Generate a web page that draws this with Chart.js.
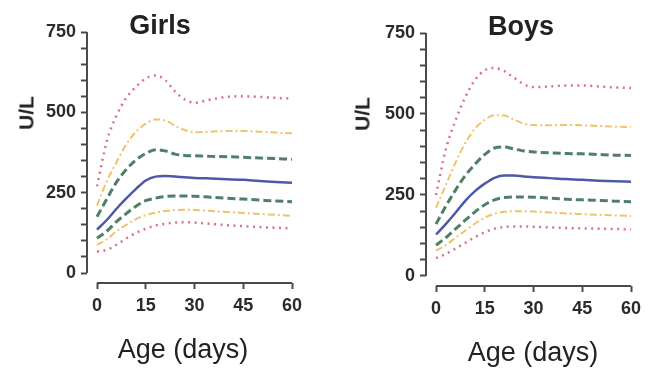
<!DOCTYPE html>
<html>
<head>
<meta charset="utf-8">
<script src="https://cdn.jsdelivr.net/npm/chart.js@4.4.1/dist/chart.umd.min.js"></script>
<style>
  html, body { margin: 0; padding: 0; background: #fff; overflow: hidden; }
  #wrap { position: relative; width: 652px; height: 369px; font-family: "Liberation Sans", Arial, sans-serif; color: #222; }
  canvas { position: absolute; top: 0; }
  .lbl { position: absolute; white-space: nowrap; line-height: 1; transform: translate(-50%, -50%); }
  .ttl { font-size: 27px; font-weight: bold; }
  .yt { font-size: 21px; font-weight: bold; transform: translate(-50%, -50%) rotate(-90deg); }
  .xt { font-size: 27px; }
</style>
</head>
<body>
<div id="wrap">
  <canvas id="girls" width="326" height="369" style="left:0"></canvas>
  <canvas id="boys" width="326" height="369" style="left:326px"></canvas>
  <div class="lbl ttl" style="left:160px; top:25px">Girls</div>
  <div class="lbl ttl" style="left:521px; top:26px">Boys</div>
  <div class="lbl yt" style="left:26px; top:113px">U/L</div>
  <div class="lbl yt" style="left:362px; top:114px">U/L</div>
  <div class="lbl xt" style="left:183px; top:349px">Age (days)</div>
  <div class="lbl xt" style="left:533px; top:352px">Age (days)</div>
</div>
<script>
// age in days
const days = [0, 3, 6, 9, 12, 15, 18, 21, 24, 27, 30, 35, 40, 45, 50, 55, 60];
const xTicks = [0, 15, 30, 45, 60];
const yTicks = [0, 50, 100, 150, 200, 250, 300, 350, 400, 450, 500, 550, 600, 650, 700, 750];

// girls reference curves, U/L
const girlsHi3 = [270, 410, 490, 545, 580, 605, 615, 600, 565, 540, 530, 540, 548, 550, 548, 545, 543];
const girlsHi2 = [210, 285, 345, 400, 440, 465, 478, 475, 458, 445, 438, 440, 442, 442, 440, 437, 435];
const girlsHi1 = [175, 230, 283, 322, 352, 372, 384, 380, 370, 366, 365, 363, 362, 360, 358, 356, 354];
const girlsMid = [135, 165, 200, 232, 262, 288, 300, 302, 300, 298, 296, 294, 292, 290, 286, 283, 281];
const girlsLo1 = [108, 130, 160, 185, 208, 225, 233, 238, 240, 240, 239, 236, 233, 230, 227, 224, 222];
const girlsLo2 = [88, 105, 130, 150, 168, 180, 188, 193, 196, 197, 196, 193, 190, 187, 184, 181, 178];
const girlsLo3 = [67, 72, 88, 108, 125, 138, 148, 153, 157, 158, 157, 153, 149, 146, 143, 141, 139];

// boys reference curves, U/L
const boysHi3 = [250, 390, 480, 552, 605, 635, 642, 632, 612, 592, 583, 585, 588, 588, 585, 582, 580];
const boysHi2 = [210, 280, 350, 410, 455, 482, 496, 495, 483, 470, 466, 465, 466, 465, 463, 461, 459];
const boysHi1 = [160, 215, 265, 310, 345, 375, 395, 398, 392, 386, 383, 380, 378, 377, 375, 373, 372];
const boysMid = [128, 160, 195, 232, 262, 285, 303, 310, 310, 307, 305, 302, 299, 297, 294, 292, 291];
const boysLo1 = [95, 118, 145, 172, 198, 220, 235, 242, 244, 244, 243, 240, 237, 235, 233, 231, 229];
const boysLo2 = [78, 95, 118, 140, 162, 180, 192, 198, 200, 200, 199, 196, 193, 191, 189, 187, 185];
const boysLo3 = [55, 68, 85, 102, 120, 135, 146, 151, 153, 153, 152, 150, 148, 147, 146, 145, 144];

const RED = '#d8728a';
const ORANGE = '#f1c268';
const GREEN = '#4f7f66';
const BLUE = '#4d58a8';

function serie(vals, color, dash, width) {
    return {
        data: days.map((d, i) => ({x: d, y: vals[i]})),
        borderColor: color,
        backgroundColor: color,
        borderDash: dash,
        borderWidth: width,
        pointRadius: 0,
        cubicInterpolationMode: 'monotone',
        fill: false
    };
}

// axis lines only span 0..60 and 0..750, like the original
const axisLines = {
    id: 'axisLines',
    afterDraw: (chart) => {
        const ctx = chart.ctx;
        const {x, y} = chart.scales;
        const area = chart.chartArea;
        ctx.save();
        ctx.strokeStyle = '#4a4a4a';
        ctx.lineWidth = 2;
        ctx.beginPath();
        ctx.moveTo(area.left, y.getPixelForValue(750));
        ctx.lineTo(area.left, y.getPixelForValue(0));
        ctx.moveTo(x.getPixelForValue(0), area.bottom);
        ctx.lineTo(x.getPixelForValue(60), area.bottom);
        ctx.stroke();
        ctx.restore();
    }
};

function panel(id, series, opt) {
    const tickFont = {family: "'Liberation Sans', Arial, sans-serif", size: 18, weight: 'bold'};
    return new Chart(document.getElementById(id), {
        type: 'line',
        data: {
            datasets: [
                serie(series[0], RED, [2, 4.5], 2.5),
                serie(series[1], ORANGE, [7, 3, 2, 3], 2),
                serie(series[2], GREEN, [8, 4], 3),
                serie(series[3], BLUE, [], 2.5),
                serie(series[4], GREEN, [8, 4], 3),
                serie(series[5], ORANGE, [7, 3, 2, 3], 2),
                serie(series[6], RED, [2, 4.5], 2.5)
            ]
        },
        plugins: [axisLines],
        options: {
            responsive: false,
            animation: false,
            layout: {padding: {top: opt.top, left: 0, right: 0, bottom: 0}},
            plugins: {legend: {display: false}, tooltip: {enabled: false}},
            scales: {
                x: {
                    type: 'linear',
                    min: opt.xMin,
                    max: opt.xMax,
                    afterBuildTicks: (s) => { s.ticks = xTicks.map(v => ({value: v})); },
                    afterFit: (s) => { s.height = opt.xHeight; },
                    border: {display: false},
                    grid: {drawOnChartArea: false, drawTicks: true, tickLength: 6, tickColor: '#4a4a4a', tickWidth: 2},
                    ticks: {color: '#2b2b2b', font: tickFont, padding: 6, maxRotation: 0, autoSkip: false}
                },
                y: {
                    min: opt.yMin,
                    max: 750,
                    afterBuildTicks: (s) => { s.ticks = yTicks.map(v => ({value: v})); },
                    afterFit: (s) => { s.width = opt.yWidth; },
                    border: {display: false},
                    grid: {drawOnChartArea: false, drawTicks: true, tickLength: 6, tickColor: '#4a4a4a', tickWidth: 2},
                    ticks: {
                        color: '#2b2b2b', font: tickFont, padding: 5, autoSkip: false,
                        callback: (v) => (v % 250 === 0 ? v : '')
                    }
                }
            }
        }
    });
}

panel('girls', [girlsHi3, girlsHi2, girlsHi1, girlsMid, girlsLo1, girlsLo2, girlsLo3],
    {top: 32, yWidth: 87, xHeight: 86, xMin: -3.08, xMax: 70.46, yMin: -31});
panel('boys', [boysHi3, boysHi2, boysHi1, boysMid, boysLo1, boysLo2, boysLo3],
    {top: 33, yWidth: 100, xHeight: 83, xMin: -3.08, xMax: 66.46, yMin: -31});
</script>
</body>
</html>
